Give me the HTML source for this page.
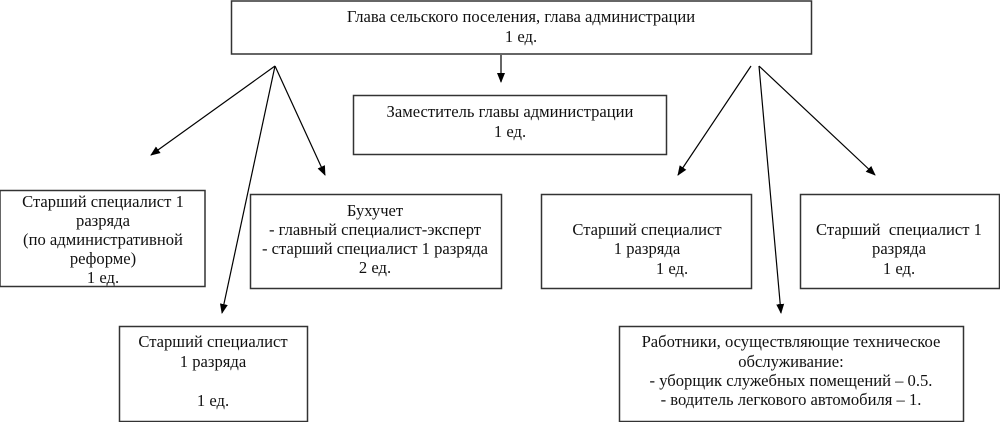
<!DOCTYPE html>
<html><head><meta charset="utf-8"><style>
html,body{margin:0;padding:0;background:#fff;}
svg{display:block;}
text{font-family:"Liberation Serif",serif;font-size:16.6px;fill:#111;}
</style></head><body>
<svg width="1000" height="422" viewBox="0 0 1000 422" xmlns="http://www.w3.org/2000/svg">
<defs><marker id="a" markerWidth="10" markerHeight="10" refX="9" refY="5" orient="auto" markerUnits="userSpaceOnUse"><path d="M0,1 L10,5 L0,9 z" fill="#000"/></marker></defs>
<g fill="none" stroke="#333" stroke-width="1.5">
<rect x="231.5" y="1" width="580" height="53"/>
<rect x="353.5" y="95.5" width="313" height="59"/>
<rect x="0" y="190.5" width="205" height="96"/>
<rect x="250.5" y="194.5" width="251" height="94"/>
<rect x="119.5" y="326.5" width="188" height="95"/>
<rect x="541.5" y="194.5" width="210" height="94"/>
<rect x="800.5" y="194.5" width="199" height="94"/>
<rect x="619.5" y="326.5" width="344" height="95"/>
</g>
<g stroke="#000" stroke-width="1.2" marker-end="url(#a)">
<line x1="501" y1="55" x2="501" y2="82"/>
<line x1="275" y1="66" x2="151" y2="155"/>
<line x1="275" y1="66" x2="222" y2="313"/>
<line x1="275" y1="66" x2="325" y2="175"/>
<line x1="751" y1="66" x2="678" y2="175"/>
<line x1="759" y1="66" x2="781" y2="313"/>
<line x1="759" y1="66" x2="875" y2="175"/>
</g>
<g text-anchor="middle">
<text x="521" y="22">Глава сельского поселения, глава администрации</text>
<text x="521" y="42">1 ед.</text>
<text x="510" y="117">Заместитель главы администрации</text>
<text x="510" y="137">1 ед.</text>
<text x="103" y="207">Старший специалист 1</text>
<text x="103" y="226">разряда</text>
<text x="103" y="245">(по административной</text>
<text x="103" y="264">реформе)</text>
<text x="103" y="283">1 ед.</text>
<text x="375" y="216">Бухучет</text>
<text x="375" y="235">- главный специалист-эксперт</text>
<text x="375" y="254">- старший специалист 1 разряда</text>
<text x="375" y="273">2 ед.</text>
<text x="647" y="235">Старший специалист</text>
<text x="647" y="254">1 разряда</text>
<text x="672" y="274">1 ед.</text>
<text x="899" y="235">Старший&#160; специалист 1</text>
<text x="899" y="254">разряда</text>
<text x="899" y="274">1 ед.</text>
<text x="213" y="347">Старший специалист</text>
<text x="213" y="367">1 разряда</text>
<text x="213" y="406">1 ед.</text>
<text x="791" y="347">Работники, осуществляющие техническое</text>
<text x="791" y="367">обслуживание:</text>
<text x="791" y="386">- уборщик служебных помещений – 0.5.</text>
<text x="791" y="405">- водитель легкового автомобиля – 1.</text>
</g>
</svg>
</body></html>
